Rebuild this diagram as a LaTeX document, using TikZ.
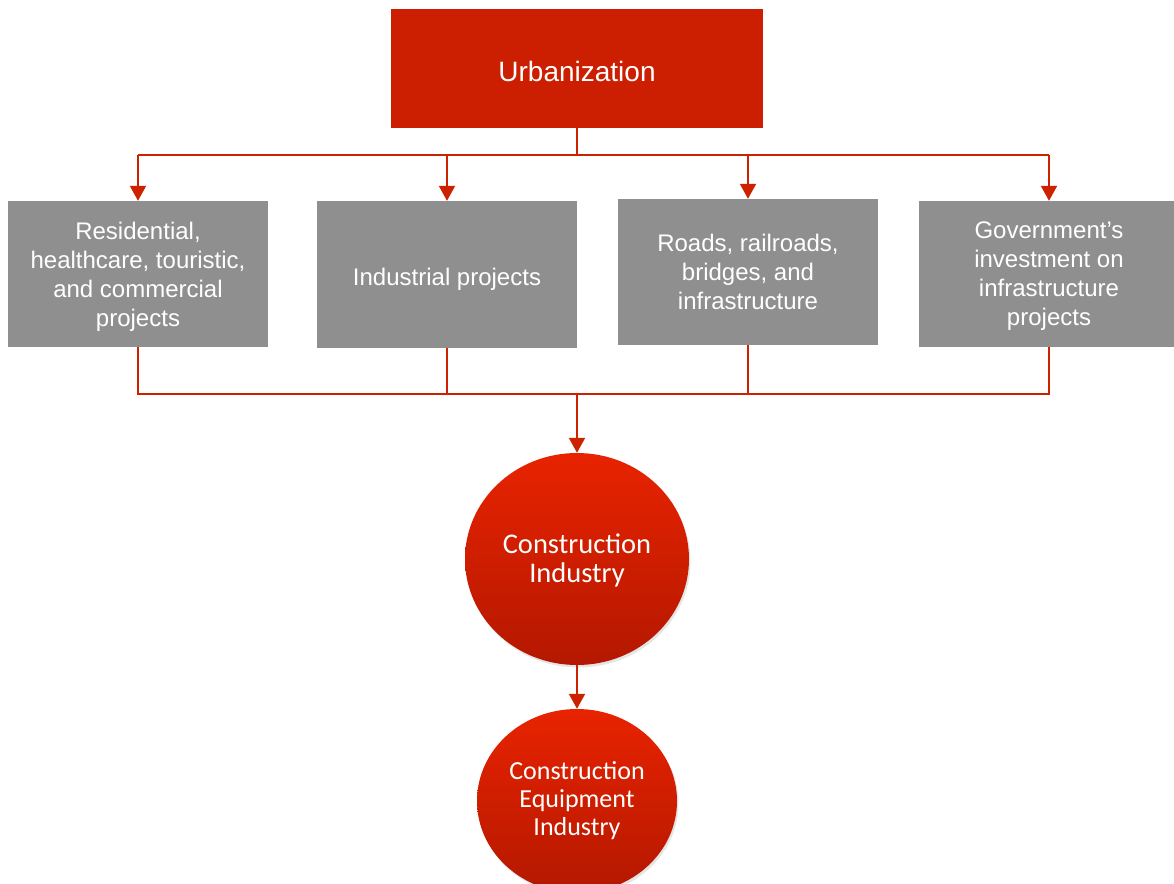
\documentclass[tikz,border=0pt]{standalone}
\usepackage{fontspec}
\setmainfont{Liberation Sans}
\newfontfamily\carlito{Carlito}
\usepackage[svgnames]{xcolor}
\usepackage{tikz}
\usetikzlibrary{
  arrows.meta,
  shapes.geometric,
  shadows}

\definecolor{urbred}{HTML}{CC1E00}
\definecolor{linkred}{HTML}{CC2200}
\definecolor{projgray}{HTML}{8F8F8F}
\definecolor{balltop}{HTML}{E82300}
\definecolor{ballbottom}{HTML}{B41800}

\tikzset{
  urbbox/.style={fill=urbred, text=white, minimum width=372pt, minimum height=119pt,
    inner sep=0pt, font=\fontsize{28}{34}\selectfont},
  projbox/.style={fill=projgray, text=white, minimum width=260pt, minimum height=146pt,
    inner sep=0pt, align=center, font=\fontsize{24}{29}\selectfont},
  ball/.style={ellipse, top color=balltop, bottom color=ballbottom, text=white,
    inner sep=0pt, align=center,
    drop shadow={opacity=0.2, shadow xshift=1.5pt, shadow yshift=-2.5pt}},
  link/.style={linkred, line width=2pt},
  feed/.style={link, -{Triangle[width=16pt,length=15pt]}}
}

\begin{document}
\begin{tikzpicture}[x=1pt,y=-1pt]
\clip (0,0) rectangle (1174,883);
\fill[white] (0,0) rectangle (1174,883);

\node[urbbox, text height=25.5pt] (urb) at (577,68.5) {Urbanization};

\node[projbox, text depth=-3pt] (res) at (138,274) {Residential,\\healthcare, touristic,\\and commercial\\projects};
\node[projbox, minimum height=147pt, text height=27.5pt] (ind) at (447,274.5) {Industrial projects};
\node[projbox] (road) at (748,272) {Roads, railroads,\\bridges, and\\infrastructure};
\node[projbox, text depth=-3pt] (gov) at (1049,274) {Government’s\\investment on\\infrastructure\\projects};

\node[ball, minimum width=224pt, minimum height=212pt, text depth=2pt,
  font=\carlito\fontsize{28.5}{29}\selectfont] (ci) at (577,559) {Construction\\Industry};
\node[ball, minimum width=200pt, minimum height=184pt,
  font=\carlito\fontsize{26}{28}\selectfont] (cei) at (577,801) {Construction\\Equipment\\Industry};

\coordinate (split) at (577,155);
\coordinate (merge) at (577,394);

% fan out
\draw[link] (urb.south) -- (split);
\draw[link] (split -| res.north) -- (split -| gov.north);
\foreach \b in {res,ind,road,gov}
  \draw[feed] (split -| \b.north) -- (\b.north);

% gather
\draw[link] (res.south) |- (merge -| gov.south) -- (gov.south);
\draw[link] (ind.south) -- (ind.south |- merge);
\draw[link] (road.south) -- (road.south |- merge);
\draw[feed] (merge) -- (ci.north);
\draw[feed] (ci.south) -- (cei.north);
\end{tikzpicture}
\end{document}
